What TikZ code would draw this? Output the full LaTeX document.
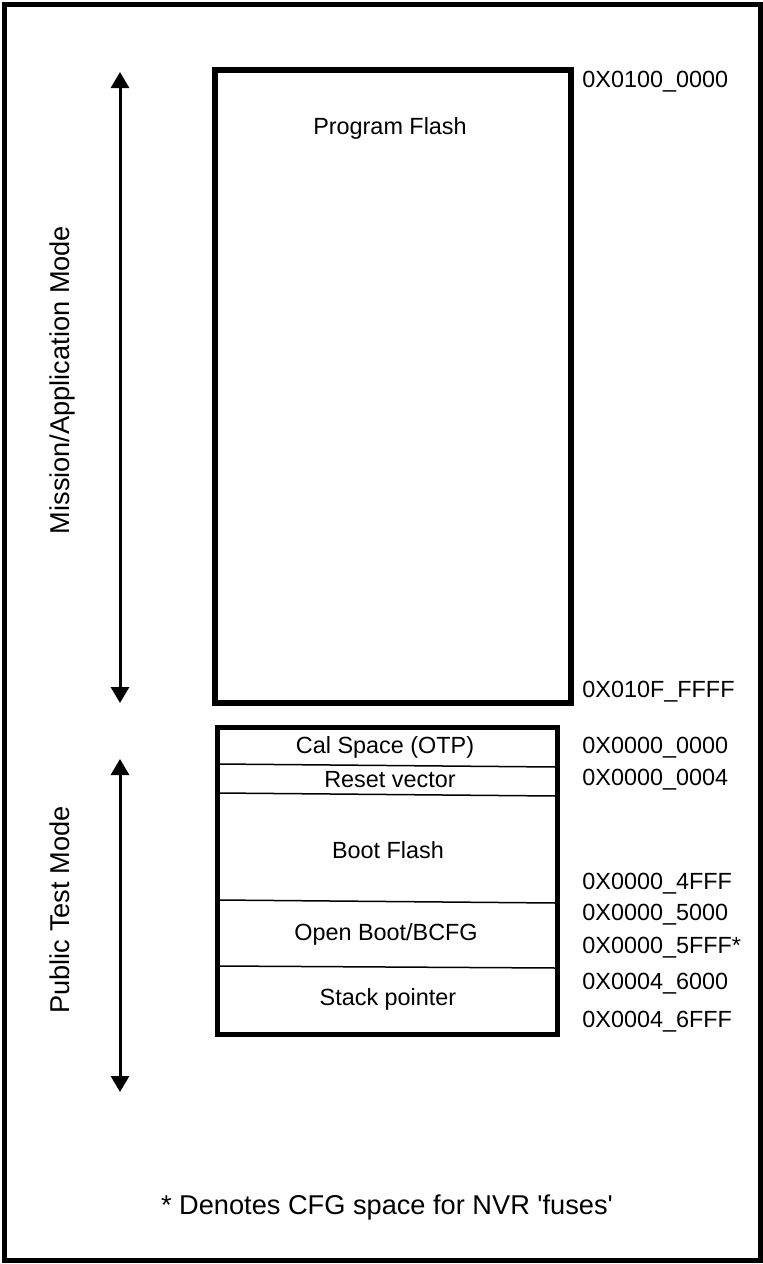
\documentclass[tikz,border=0pt]{standalone}
\usepackage{fontspec}
\setmainfont{Liberation Sans}
\usetikzlibrary{arrows.meta}
\begin{document}
\begin{tikzpicture}[x=0.5pt,y=-0.5pt,
  every node/.style={font=\fontsize{11.7}{14}\selectfont, inner sep=0pt, text height=0.72em, text depth=0pt},
  frame/.style={line width=2.5pt},
  membox/.style={line width=2.9pt},
  divider/.style={line width=0.75pt},
  modearrow/.style={line width=1.5pt, {Triangle[length=8pt,width=9pt]}-{Triangle[length=8pt,width=9pt]}},
  addr/.style={anchor=west},
  lbl/.style={},
  biglbl/.style={font=\fontsize{13.6}{16}\selectfont},
  sidelbl/.style={biglbl, rotate=90}]
\useasboundingbox (0,0) rectangle (763,1264);
\draw[frame] (4.5,4.5) rectangle (760,1260);
% upper box
\draw[membox] (215,70) rectangle (571,703);
\node[lbl] (pf) at (390,127) {Program Flash};
% lower box
\draw[membox] (217.5,727.5) rectangle (557.5,1034.5);
\draw[divider] (219,764) -- (556,767);
\draw[divider] (219,793) -- (556,796);
\draw[divider] (219,900) -- (556,903);
\draw[divider] (219,966) -- (556,968);
\node[lbl] (cal) at (385,746) {Cal Space (OTP)};
\node[lbl] (rv) at (390,780) {Reset vector};
\node[lbl] (bf) at (388,851) {Boot Flash};
\node[lbl] (ob) at (386,933) {Open Boot/BCFG};
\node[lbl] (sp) at (388,998) {Stack pointer};
% addresses
\node[addr] (a1) at (582,80) {0X0100\_0000};
\node[addr] (a2) at (582,690) {0X010F\_FFFF};
\node[addr] (a3) at (582,746) {0X0000\_0000};
\node[addr] (a4) at (582,778) {0X0000\_0004};
\node[addr] (a5) at (582,882) {0X0000\_4FFF};
\node[addr] (a6) at (582,913) {0X0000\_5000};
\node[addr] (a7) at (582,946) {0X0000\_5FFF*};
\node[addr] (a8) at (582,982) {0X0004\_6000};
\node[addr] (a9) at (582,1020) {0X0004\_6FFF};
% arrows
\coordinate (m1) at (120,72);
\coordinate (m2) at (120,703);
\coordinate (p1) at (120,759);
\coordinate (p2) at (120,1092);
\draw[modearrow] (m1) -- (m2);
\draw[modearrow] (p1) -- (p2);
\node[sidelbl] (mam) at (62,380) {Mission/Application Mode};
\node[sidelbl] (ptm) at (62,910) {Public Test Mode};
\node[biglbl] (note) at (387,1207) {* Denotes CFG space for NVR \textquotesingle fuses\textquotesingle};
\end{tikzpicture}
\end{document}
